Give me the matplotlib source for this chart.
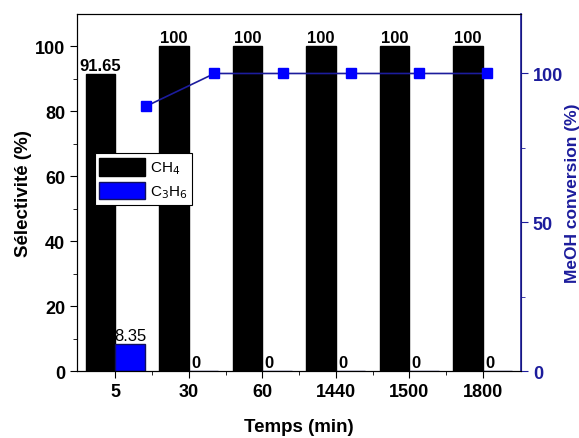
import matplotlib.pyplot as plt
import numpy as np

plt.rcParams['font.family'] = ['Liberation Sans', 'DejaVu Sans']

# Données
temps = ['5', '30', '60', '1440', '1500', '1800']
sel_ch4 = [91.65, 100, 100, 100, 100, 100]
sel_c3h6 = [8.35, 0, 0, 0, 0, 0]
# conversion du MeOH (axe de droite), positions en x
conv_x = [0.42, 1.35, 2.28, 3.2, 4.13, 5.06]
conv_meoh = [89, 100, 100, 100, 100, 100]

bleu_fonce = '#1c1c9c'

fig = plt.figure(figsize=(5.79, 4.39), dpi=100)
ax = fig.add_axes([0.133, 0.152, 0.767, 0.814])

x = np.arange(len(temps))
w = 0.4
ax.bar(x - w / 2, sel_ch4, w, color='black', edgecolor='black', label='CH$_4$')
ax.bar(x + w / 2, sel_c3h6, w, color='#0000ff', edgecolor='#101060', label='C$_3$H$_6$')

# étiquettes des barres
for xi, v in zip(x - w / 2, sel_ch4):
    ax.text(xi, v + 0.3, '%g' % v, ha='center', va='bottom', fontsize=12, fontweight='bold')
for xi, v in zip(x, sel_c3h6):
    if v:
        ax.text(xi + w / 2, v + 0.3, '%g' % v, ha='center', va='bottom', fontsize=12)
    else:
        ax.text(xi + 0.03, v + 0.3, '%g' % v, ha='left', va='bottom', fontsize=12,
                fontweight='bold')

ax.set_xlim(-0.52, 5.52)
ax.set_ylim(0, 110)
ax.set_xticks(x)
ax.set_xticklabels(temps)
ax.set_xticks(x[:-1] + 0.5, minor=True)
ax.set_yticks([0, 20, 40, 60, 80, 100])
ax.set_yticks(np.arange(10, 110, 20), minor=True)
ax.tick_params(axis='both', which='major', labelsize=13, length=5, direction='out')
ax.tick_params(axis='both', which='minor', length=3, direction='out')
for lab in ax.get_xticklabels() + ax.get_yticklabels():
    lab.set_fontweight('bold')
ax.set_xlabel('Temps (min)', fontsize=13.5, fontweight='bold', labelpad=13)
ax.set_ylabel('Sélectivité (%)', fontsize=13.5, fontweight='bold', labelpad=2)

leg = ax.legend(loc='upper left', bbox_to_anchor=(0.04, 0.61), fontsize=11,
                handlelength=3.0, handleheight=1.4, handletextpad=0.3,
                borderpad=0.3, labelspacing=0.35, fancybox=False,
                edgecolor='black', framealpha=1, borderaxespad=0)
leg.get_frame().set_linewidth(0.8)

# axe de droite : conversion
ax2 = ax.twinx()
ax2.plot(conv_x, conv_meoh, color=bleu_fonce, lw=1.2, marker='s', markersize=7,
         markerfacecolor='#0000ff', markeredgecolor='#0000ff')
ax2.set_ylim(0, 120)
ax2.set_yticks([0, 50, 100])
ax2.set_yticks([25, 75], minor=True)
ax2.tick_params(axis='y', which='major', labelsize=13, length=5, colors=bleu_fonce)
ax2.tick_params(axis='y', which='minor', length=3, colors=bleu_fonce)
for lab in ax2.get_yticklabels():
    lab.set_fontweight('bold')
ax2.spines['right'].set_color(bleu_fonce)
ax2.spines['right'].set_linewidth(1.2)
ax2.set_ylabel('MeOH conversion (%)', fontsize=12.5, fontweight='bold', color=bleu_fonce, labelpad=1)

plt.savefig('out.png', dpi=100)
